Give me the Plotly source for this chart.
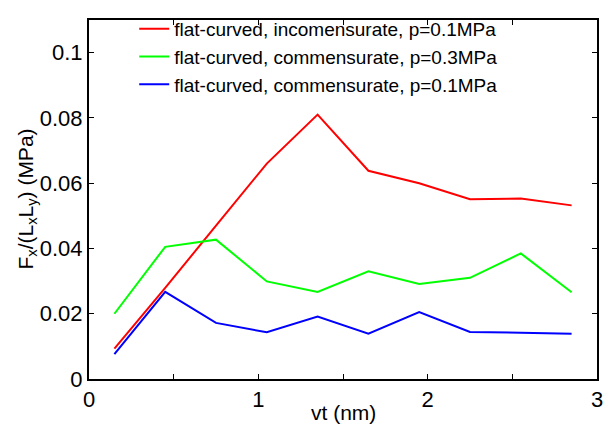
import plotly.graph_objects as go

vt = [0.15, 0.45, 0.75, 1.05, 1.35, 1.65, 1.95, 2.25, 2.55, 2.85]
incom_p01 = [0.0093, 0.0279, 0.047, 0.066, 0.081, 0.0638, 0.0600, 0.0551, 0.0553, 0.0532]
com_p03 = [0.0200, 0.0405, 0.0427, 0.0299, 0.0267, 0.0330, 0.0291, 0.0310, 0.0385, 0.0266]
com_p01 = [0.0076, 0.0267, 0.0172, 0.0143, 0.0191, 0.0139, 0.0205, 0.0144, 0.0142, 0.0139]

names = ["flat-curved, incomensurate, p=0.1MPa",
         "flat-curved, commensurate, p=0.3MPa",
         "flat-curved, commensurate, p=0.1MPa"]
colors = ["#ff0000", "#00ff00", "#0000ff"]

x_tickvals = [0, 0.5, 1, 1.5, 2, 2.5, 3]
x_ticktext = ["0", "", "1", "", "2", "", "3"]
y_tickvals = [0, 0.02, 0.04, 0.06, 0.08, 0.1]
y_ticktext = ["0", "0.02", "0.04", "0.06", "0.08", "0.1"]

x_title = "vt (nm)"
y_title = "F<sub>x</sub>/(L<sub>x</sub>L<sub>y</sub>) (MPa)"

fig = go.Figure()
for ys, nm, c in zip([incom_p01, com_p03, com_p01], names, colors):
    fig.add_trace(go.Scatter(x=vt, y=ys, mode="lines", name=nm,
                             line=dict(color=c, width=2)))

font = "Liberation Sans, Arial, sans-serif"
axis_common = dict(showline=True, linecolor="black", linewidth=2, mirror="ticks",
                   ticks="inside", ticklen=5, tickwidth=1, tickcolor="black",
                   showgrid=False, zeroline=False, automargin=False,
                   tickfont=dict(family=font, size=22, color="black"))

# page body has an 8px margin; size the figure so the plot area lands at the right spot
fig.update_layout(
    width=603, height=417,
    margin=dict(l=81, r=14, t=2, b=46),
    paper_bgcolor="white", plot_bgcolor="white",
    font=dict(family=font, color="black"),
    xaxis=dict(range=[0, 3], tickmode="array", tickvals=x_tickvals, ticktext=x_ticktext,
               **axis_common),
    yaxis=dict(range=[0, 0.11], tickmode="array", tickvals=y_tickvals, ticktext=y_ticktext,
               **axis_common),
    legend=dict(x=0.089, y=1.028, xanchor="left", yanchor="top",
                bgcolor="rgba(0,0,0,0)", borderwidth=0,
                font=dict(family=font, size=19, color="black"),
                tracegroupgap=0, itemwidth=30),
    showlegend=True,
    annotations=[
        dict(text=x_title, xref="paper", yref="paper", x=0.5, y=-0.093,
             xanchor="center", yanchor="middle", showarrow=False,
             font=dict(family=font, size=21, color="black")),
        dict(text=y_title, xref="paper", yref="paper", x=-0.124, y=0.5,
             xanchor="center", yanchor="middle", showarrow=False, textangle=-90,
             font=dict(family=font, size=21, color="black")),
    ],
)
fig.write_html("out.html")
